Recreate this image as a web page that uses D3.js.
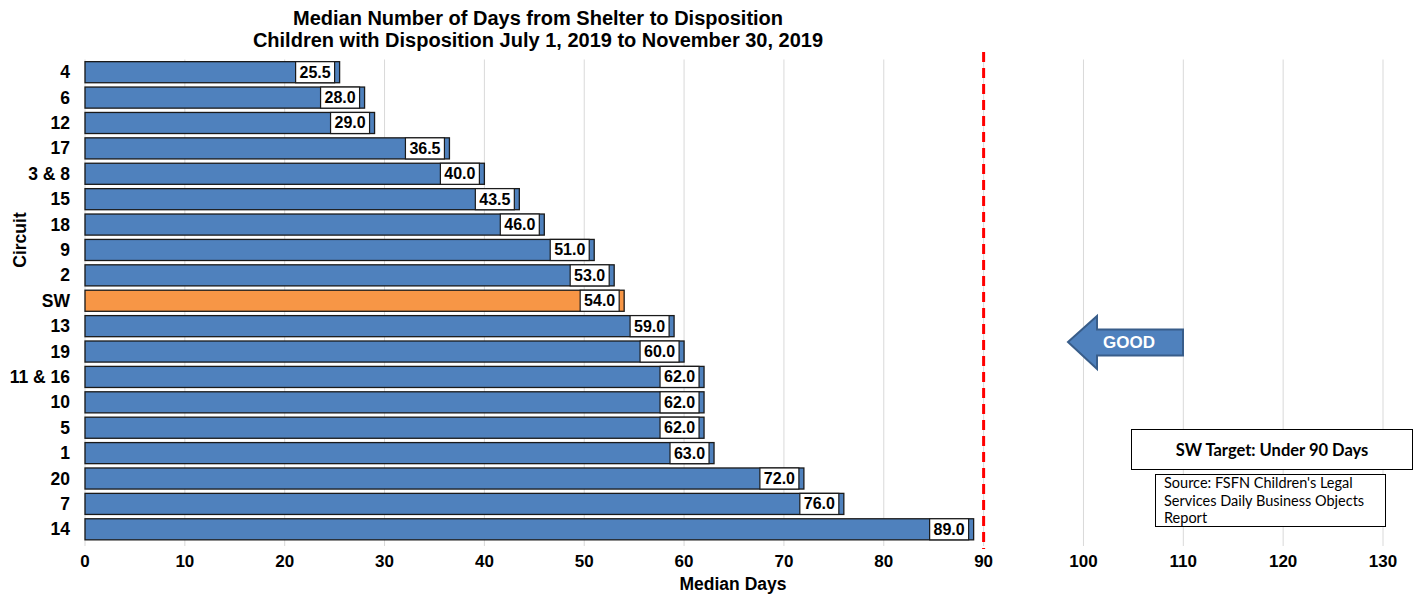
<!DOCTYPE html>
<html>
<head>
<meta charset="utf-8">
<script src="https://cdn.jsdelivr.net/npm/d3@7"></script>
<style>
  html, body { margin: 0; padding: 0; background: #fff; }
  svg { display: block; font-family: "Liberation Sans", Arial, sans-serif; }
</style>
</head>
<body>
<svg id="chart" width="1420" height="597"></svg>
<script>
// Circuits, top to bottom, and median days from shelter to disposition
const circuits = ["4", "6", "12", "17", "3 & 8", "15", "18", "9", "2", "SW", "13", "19", "11 & 16", "10", "5", "1", "20", "7", "14"];
const medianDays = [25.5, 28.0, 29.0, 36.5, 40.0, 43.5, 46.0, 51.0, 53.0, 54.0, 59.0, 60.0, 62.0, 62.0, 62.0, 63.0, 72.0, 76.0, 89.0];
const xTicks = [0, 10, 20, 30, 40, 50, 60, 70, 80, 90, 100, 110, 120, 130];
const targetDays = [90];
const titleLines = ["Median Number of Days from Shelter to Disposition", "Children with Disposition July 1, 2019 to November 30, 2019"];
const sourceLines = ["Source: FSFN Children's Legal", "Services Daily Business Objects", "Report"];

const svg = d3.select("#chart");
const plotLeft = 85, plotRight = 1383, plotTop = 59.5, plotBottom = 542;

const x = d3.scaleLinear().domain([0, 130]).range([plotLeft, plotRight]);
const y = d3.scaleBand().domain(circuits).range([plotTop, plotBottom]).paddingInner(0.17).paddingOuter(0.085);

// Vertical gridlines
svg.append("g").selectAll("line").data(xTicks).join("line")
  .attr("x1", d => x(d)).attr("x2", d => x(d))
  .attr("y1", plotTop).attr("y2", plotBottom + 4)
  .attr("stroke", "#d9d9d9").attr("stroke-width", 1);

// Title
svg.append("g").selectAll("text").data(titleLines).join("text")
  .attr("x", 538).attr("y", (d, i) => 25 + i * 21.5)
  .attr("text-anchor", "middle")
  .attr("font-size", 20).attr("font-weight", "bold").attr("fill", "#000")
  .text(d => d);

// Bars
const rows = circuits.map((c, i) => ({ circuit: c, value: medianDays[i] }));
svg.append("g").selectAll("rect").data(rows).join("rect")
  .attr("x", x(0)).attr("y", d => y(d.circuit))
  .attr("width", d => x(d.value) - x(0)).attr("height", y.bandwidth())
  .attr("fill", d => d.circuit === "SW" ? "#F79646" : "#4F81BD")
  .attr("stroke", "#1a1a1a").attr("stroke-width", 1.3);

// Value labels in boxes at the bar ends
const lab = svg.append("g").selectAll("g").data(rows).join("g")
  .attr("transform", d => `translate(${x(d.value) - 5},${y(d.circuit) + y.bandwidth() / 2})`);
lab.append("rect")
  .attr("x", -39).attr("y", -y.bandwidth() / 2).attr("width", 39).attr("height", y.bandwidth())
  .attr("fill", "#fff").attr("stroke", "#1a1a1a").attr("stroke-width", 1.2);
lab.append("text")
  .attr("x", -19.5).attr("y", 5.5).attr("text-anchor", "middle")
  .attr("font-size", 16).attr("font-weight", "bold").attr("fill", "#000")
  .text(d => d.value.toFixed(1));

// Y axis labels
svg.append("g").selectAll("text").data(circuits).join("text")
  .attr("x", 70).attr("y", d => y(d) + y.bandwidth() / 2 + 6)
  .attr("text-anchor", "end")
  .attr("font-size", 17.5).attr("font-weight", "bold").attr("fill", "#000")
  .text(d => d);

// X axis tick labels
svg.append("g").selectAll("text").data(xTicks).join("text")
  .attr("x", d => x(d)).attr("y", 567)
  .attr("text-anchor", "middle")
  .attr("font-size", 17).attr("font-weight", "bold").attr("fill", "#000")
  .text(d => d);

// Axis titles
svg.append("text").attr("x", 733).attr("y", 590).attr("text-anchor", "middle")
  .attr("font-size", 17.5).attr("font-weight", "bold").text("Median Days");
svg.append("text").attr("transform", "translate(26,240) rotate(-90)").attr("text-anchor", "middle")
  .attr("font-size", 17.5).attr("font-weight", "bold").text("Circuit");

// Target line
svg.append("g").selectAll("line").data(targetDays).join("line")
  .attr("x1", d => x(d)).attr("x2", d => x(d))
  .attr("y1", 52).attr("y2", 549)
  .attr("stroke", "#ff0000").attr("stroke-width", 3).attr("stroke-dasharray", "10,6");

// "GOOD" arrow pointing toward fewer days
const arrow = svg.append("g");
arrow.append("path")
  .attr("d", "M1068,342 L1097,316 L1097,329.5 L1183,329.5 L1183,355.5 L1097,355.5 L1097,369 Z")
  .attr("fill", "#4F81BD").attr("stroke", "#385D8A").attr("stroke-width", 2);
arrow.append("text").attr("x", 1129).attr("y", 348).attr("text-anchor", "middle")
  .attr("font-size", 17).attr("font-weight", "bold").attr("fill", "#fff").text("GOOD");

// Target note
svg.append("rect").attr("x", 1131.5).attr("y", 429.5).attr("width", 281).attr("height", 40)
  .attr("fill", "#fff").attr("stroke", "#000").attr("stroke-width", 1);
svg.append("text").attr("x", 1272).attr("y", 455.5).attr("text-anchor", "middle")
  .attr("font-family", "Lato, 'Open Sans', sans-serif")
  .attr("font-size", 16.5).attr("font-weight", "bold").text("SW  Target: Under 90 Days");

// Source note
svg.append("rect").attr("x", 1155.5).attr("y", 474.5).attr("width", 230).attr("height", 52)
  .attr("fill", "#fff").attr("stroke", "#000").attr("stroke-width", 1);
svg.append("g").selectAll("text").data(sourceLines).join("text")
  .attr("x", 1164).attr("y", (d, i) => 488 + i * 17.5)
  .attr("font-family", "Lato, 'Open Sans', sans-serif")
  .attr("font-size", 14.5).attr("fill", "#000").text(d => d);
</script>
</body>
</html>
